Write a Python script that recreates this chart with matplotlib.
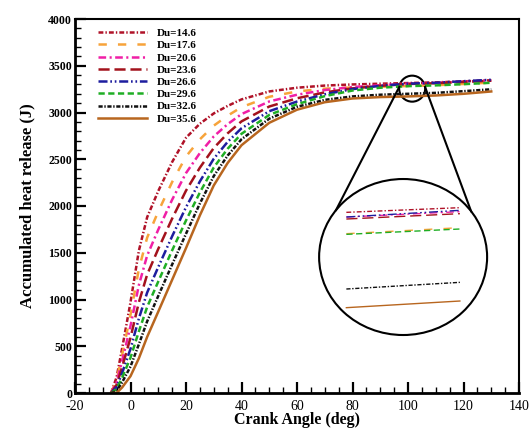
"""Accumulated heat release vs crank angle for a sweep of Du, with a
magnified view of the curves where they level off near 100 deg."""

import matplotlib
matplotlib.use("Agg")
import matplotlib.pyplot as plt
import numpy as np
from matplotlib.patches import Ellipse
from matplotlib.ticker import MultipleLocator

plt.rcParams["font.family"] = ["Liberation Serif", "DejaVu Serif"]
plt.rcParams["lines.scale_dashes"] = False
plt.rcParams["axes.unicode_minus"] = False

# crank angle (deg), shared by every curve
crank = [-7, -5, -3, 0, 3, 6, 10, 15, 20, 25, 30, 35, 40, 50, 60, 70, 80, 90,
         100, 110, 120, 130]

# accumulated heat release (J)
q_du146 = [0, 170, 480, 970, 1520, 1880, 2160, 2470, 2730, 2880, 2990, 3070,
           3140, 3225, 3265, 3288, 3300, 3308, 3315, 3322, 3333, 3345]
q_du176 = [0, 141, 409, 836, 1324, 1662, 1941, 2256, 2529, 2713, 2859, 2966,
           3057, 3168, 3225, 3255, 3268, 3276, 3283, 3292, 3305, 3320]
q_du206 = [0, 116, 346, 717, 1152, 1470, 1747, 2067, 2352, 2566, 2744, 2875,
           2983, 3118, 3190, 3240, 3272, 3292, 3308, 3316, 3330, 3342]
q_du236 = [0, 88, 278, 591, 968, 1266, 1541, 1865, 2164, 2410, 2620, 2777,
           2905, 3064, 3152, 3215, 3258, 3285, 3305, 3313, 3327, 3340]
q_du266 = [0, 63, 215, 472, 795, 1074, 1347, 1676, 1987, 2263, 2505, 2686,
           2831, 3014, 3117, 3195, 3250, 3285, 3308, 3318, 3335, 3350]
q_du296 = [0, 42, 165, 377, 657, 920, 1192, 1525, 1845, 2145, 2412, 2612,
           2772, 2974, 3089, 3175, 3235, 3265, 3282, 3290, 3303, 3318]
q_du326 = [0, 22, 115, 283, 520, 766, 1038, 1374, 1703, 2027, 2320, 2539,
           2714, 2934, 3061, 3135, 3172, 3190, 3200, 3210, 3228, 3248]
q_du356 = [0, 0, 60, 180, 370, 600, 870, 1210, 1550, 1900, 2220, 2460,
           2650, 2890, 3030, 3110, 3150, 3165, 3172, 3182, 3200, 3225]

du_labels = ["Du=14.6", "Du=17.6", "Du=20.6", "Du=23.6",
             "Du=26.6", "Du=29.6", "Du=32.6", "Du=35.6"]

colors = ["#b01228", "#f7a33a", "#f01fa6", "#a3121c",
          "#1d1d9e", "#1fae24", "#111111", "#b8661f"]
styles = [(0, (3.5, 1.5, 1, 1.5)), (0, (6, 8)), (0, (5.5, 2.5, 1.5, 2.5)),
          (0, (8, 3.5)), (0, (6.5, 2, 1.2, 2, 1.2, 2)), (0, (4.5, 2.5)),
          (0, (3, 1.2, 1, 1.2)), "-"]

# magnifier: small ring on the curves (data coords), big ring as axes fraction
zoom_at = (101.5, 3255)
zoom_r = 13                      # px
ring_c = (0.739, 0.3636)         # axes fraction
ring_rx, ring_ry = 84, 78        # px
# where the two connector lines leave the small ring / meet the big one (deg)
small_ang = (172, 8)
big_ang = (143, 36)
inset_x = (97.6, 112.4)
inset_y = (3131, 3365)

fig = plt.figure(figsize=(5.32, 4.28), dpi=100)
ax = fig.add_axes([75 / 532, 35 / 428, 444 / 532, 374 / 428])

series = [q_du146, q_du176, q_du206, q_du236, q_du266, q_du296, q_du326, q_du356]
for q, lab, c, ls in zip(series, du_labels, colors, styles):
    ax.plot(crank, q, color=c, lw=1.8, linestyle=ls, label=lab)

ax.set_xlim(-20, 140)
ax.set_ylim(0, 4000)
ax.xaxis.set_major_locator(MultipleLocator(20))
ax.xaxis.set_minor_locator(MultipleLocator(5))
ax.yaxis.set_major_locator(MultipleLocator(500))
ax.yaxis.set_minor_locator(MultipleLocator(100))
ax.tick_params(which="both", direction="in", top=False, right=False)
ax.tick_params(which="major", length=8, width=1.6)
ax.tick_params(which="minor", length=4, width=1.0)
ax.tick_params(axis="x", labelsize=10, pad=5)
ax.tick_params(axis="y", labelsize=8.5, pad=2)
for t in ax.get_yticklabels():
    t.set_fontweight("bold")
for side in ("left", "bottom"):
    ax.spines[side].set_linewidth(2.0)
for side in ("top", "right"):
    ax.spines[side].set_linewidth(1.5)

ax.set_xlabel("Crank Angle (deg)", fontsize=11.5, fontweight="bold")
ax.set_ylabel("Accumulated heat release (J)", fontsize=12, fontweight="bold")
ax.xaxis.set_label_coords(0.5, -0.05)
ax.yaxis.set_label_coords(-0.09, 0.5)

ax.legend(loc="upper left", bbox_to_anchor=(0.052, 0.975), frameon=False,
          borderpad=0, borderaxespad=0, handlelength=4.4, handletextpad=0.9,
          labelspacing=0.22, prop=dict(weight="bold", size=8))

# magnified view
aw, ah = ax.bbox.width, ax.bbox.height
small_c = ax.transAxes.inverted().transform(ax.transData.transform(zoom_at))
ax.add_patch(Ellipse(small_c, 2 * zoom_r / aw, 2 * zoom_r / ah,
                     transform=ax.transAxes, fill=False, lw=1.5, color="black"))
ax.add_patch(Ellipse(ring_c, 2 * ring_rx / aw, 2 * ring_ry / ah,
                     transform=ax.transAxes, fill=False, lw=1.5, color="black"))
for a_s, a_b in zip(small_ang, big_ang):
    ts, tb = np.radians(a_s), np.radians(a_b)
    x0 = small_c[0] + zoom_r * np.cos(ts) / aw
    y0 = small_c[1] + zoom_r * np.sin(ts) / ah
    x1 = ring_c[0] + ring_rx * np.cos(tb) / aw
    y1 = ring_c[1] + ring_ry * np.sin(tb) / ah
    ax.plot([x0, x1], [y0, y1], color="black", lw=1.5, transform=ax.transAxes)

ins = ax.inset_axes([ring_c[0] - ring_rx / aw, ring_c[1] - ring_ry / ah,
                     2 * ring_rx / aw, 2 * ring_ry / ah])
ca = np.array(crank)
keep = (ca >= 100) & (ca <= 110)
for q, c, ls in zip(series, colors, styles):
    ins.plot(ca[keep], np.array(q)[keep], color=c, lw=1.0, linestyle=ls)
ins.set_xlim(*inset_x)
ins.set_ylim(*inset_y)
ins.axis("off")
ins.patch.set_alpha(0)

fig.savefig("out.png", dpi=100)
